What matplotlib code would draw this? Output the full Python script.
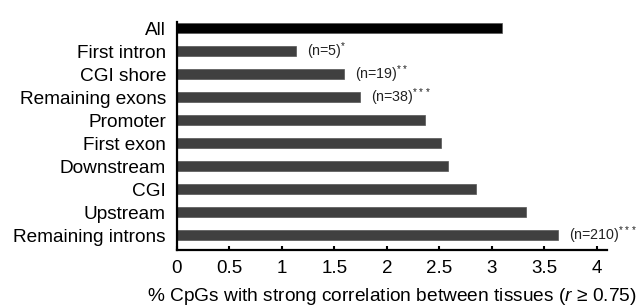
import matplotlib
matplotlib.use('Agg')
import matplotlib.pyplot as plt

plt.rcParams['font.family'] = ['Liberation Sans', 'DejaVu Sans']
plt.rcParams['mathtext.fontset'] = 'custom'
plt.rcParams['mathtext.rm'] = 'Liberation Sans'
plt.rcParams['mathtext.it'] = 'Liberation Sans:italic'

# данные (сверху вниз)
categories = ['All', 'First intron', 'CGI shore', 'Remaining exons', 'Promoter',
              'First exon', 'Downstream', 'CGI', 'Upstream', 'Remaining introns']
values = [3.10, 1.13, 1.59, 1.74, 2.36, 2.52, 2.58, 2.85, 3.33, 3.63]
notes = {1: '(n=5)$^{*}$', 2: '(n=19)$^{**}$', 3: '(n=38)$^{***}$', 9: '(n=210)$^{***}$'}
xticks = [0, 0.5, 1, 1.5, 2, 2.5, 3, 3.5, 4]
xticklabels = ['0', '0.5', '1', '1.5', '2', '2.5', '3', '3.5', '4']

fig = plt.figure(figsize=(6.42, 3.06), dpi=100)
ax = fig.add_axes([0.2757, 0.183, 0.67, 0.745])

colors = ['black'] + ['#404040'] * (len(values) - 1)
pos = list(range(len(values)))
ax.barh(pos, values, height=0.47, color=colors, edgecolor='#555555', linewidth=0.5)

for i, txt in notes.items():
    ax.annotate(txt, (values[i], pos[i]), xytext=(8, 0), textcoords='offset points',
                va='center', ha='left', fontsize=10.3, color='#222222')

ax.set_ylim(9.65, -0.26)
ax.set_xlim(0, 4.1)
ax.set_yticks(pos)
ax.set_yticklabels(categories, fontsize=13.7)
ax.set_xticks(xticks)
ax.set_xticklabels(xticklabels, fontsize=13.5)
ax.tick_params(axis='y', length=0, pad=8)
ax.tick_params(axis='x', direction='in', length=3, width=1.5, pad=7)

for s in ['top', 'right']:
    ax.spines[s].set_visible(False)
for s in ['left', 'bottom']:
    ax.spines[s].set_linewidth(1.6)

ax.set_xlabel('% CpGs with strong correlation between tissues ($r$ ≥ 0.75)', fontsize=13.8, labelpad=7)

plt.savefig('out.png', dpi=100)
